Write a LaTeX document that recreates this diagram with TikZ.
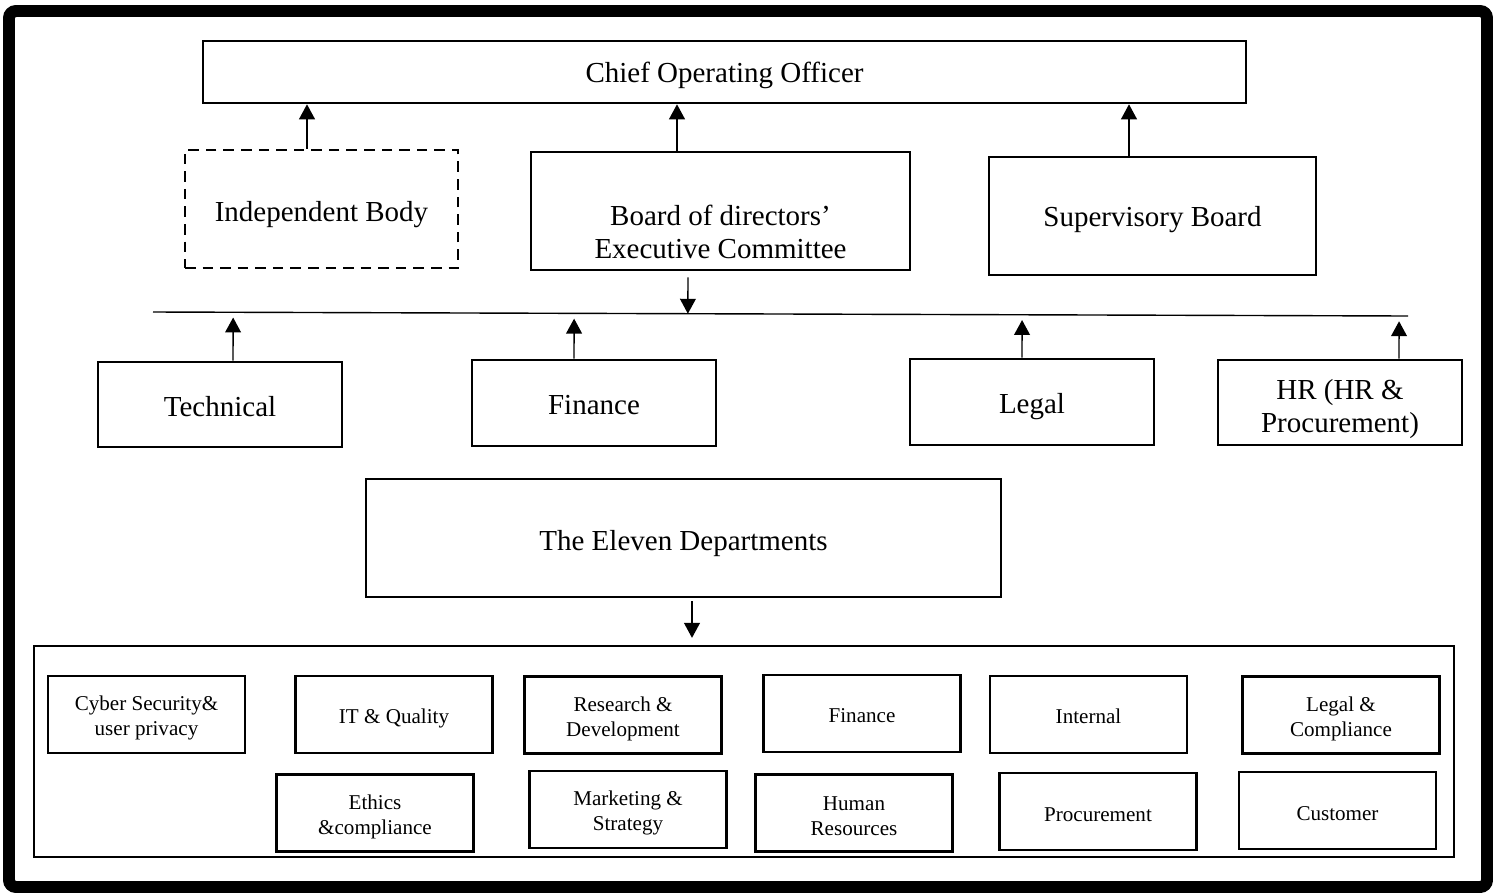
\documentclass[tikz,border=0pt]{standalone}
\usepackage{fontspec}
\setmainfont{Liberation Serif}
\usetikzlibrary{arrows.meta,calc}

\begin{document}
\begin{tikzpicture}[x=0.02cm,y=-0.02cm,>={Triangle[length=8.5pt,width=9pt]},every node/.style={font=\fontsize{16.5}{18.8}\selectfont},unit/.style={draw,line width=1.5pt,inner sep=0pt},tx/.style={align=center,inner sep=0pt},dept/.style={draw,line width=1.2pt,inner sep=0pt,minimum width=3.94cm,minimum height=1.54cm},dtx/.style={align=center,inner sep=0pt,yshift=-2pt,font=\fontsize{12}{14.2}\selectfont},link/.style={->,line width=0.8pt}]
\useasboundingbox (0,0) rectangle (1495,893);
\draw[line width=6.8pt,rounded corners=4pt] (9,11) rectangle (1487,887);
% top of the chart
\node[unit,minimum width=20.86cm,minimum height=1.24cm,label={[tx,yshift=-1.7pt]center:Chief Operating Officer}] (coo) at (724.5,72) {};
\node[unit,dash pattern=on 6pt off 4pt,minimum width=5.46cm,minimum height=2.36cm,label={[tx,yshift=-3.4pt]center:Independent Body}] (indep) at (321.5,209) {};
\node[unit,minimum width=7.58cm,minimum height=2.36cm,label={[tx,yshift=-12pt]center:Board of directors’\\Executive Committee}] (board) at (720.5,211) {};
\node[unit,minimum width=6.54cm,minimum height=2.36cm,label={[tx,yshift=-2.3pt]center:Supervisory Board}] (superv) at (1152.5,216) {};
\foreach \n/\dx in {indep/-14.5,board/-43.5,superv/-23.5}
  \draw[link] ($(\n.north)+(\dx,0)$) coordinate (tmp) -- (tmp |- coo.south);
% bus line
\draw[line width=0.8pt] (153,312) coordinate (busL) -- (1408,316) coordinate (busR);
\draw[link] ($(board.south)+(-32.5,6)$) coordinate (tmp) -- ($(busL)!(tmp)!(busR)$);
% the four units
\node[unit,minimum width=4.88cm,minimum height=1.7cm,label={[tx,yshift=-1.2pt]center:Technical}] (tech) at (220,404.5) {};
\node[unit,minimum width=4.88cm,minimum height=1.72cm,label={[tx,yshift=-1.2pt]center:Finance}] (fin) at (594,403) {};
\node[unit,minimum width=4.88cm,minimum height=1.72cm,label={[tx,yshift=-2.8pt]center:Legal}] (legal) at (1032,402) {};
\node[unit,minimum width=4.88cm,minimum height=1.7cm,label={[tx,yshift=-3.8pt]center:HR (HR \&\\Procurement)}] (hr) at (1340,402.5) {};
\foreach \n/\dx in {tech/13,fin/-20,legal/-10,hr/59}
  \draw[link,shorten >=3pt] ($(\n.north)+(\dx,0)$) coordinate (tmp) -- ($(busL)!(tmp)!(busR)$);
% departments
\node[unit,minimum width=12.7cm,minimum height=2.36cm,label={[tx,yshift=-3.4pt]center:The Eleven Departments}] (eleven) at (683.5,538) {};
\node[draw,line width=1.3pt,minimum width=28.4cm,minimum height=4.22cm] (depts) at (744,751.5) {};
\draw[link,shorten >=4pt] ($(eleven.south)+(8.5,3)$) coordinate (tmp) -- (tmp |- depts.north);
\node[dept,label={[dtx]center:Cyber Security\&\\user privacy}] (cyber) at (146.5,714.5) {};
\node[dept,label={[dtx]center:IT \& Quality}] (itq) at (394,714.5) {};
\node[dept,label={[dtx]center:Research \&\\Development}] (rnd) at (623,715) {};
\node[dept,label={[dtx,yshift=1pt]center:Finance}] (dfin) at (862,713.5) {};
\node[dept,label={[dtx,yshift=1pt]center:Internal}] (internal) at (1088.5,714.5) {};
\node[dept,label={[dtx]center:Legal \&\\Compliance}] (dlegal) at (1341,715) {};
\node[dept,label={[dtx]center:Ethics\\\&compliance}] (ethics) at (375,813) {};
\node[dept,label={[dtx]center:Marketing \&\\Strategy}] (mkt) at (628,809.5) {};
\node[dept,label={[dtx]center:Human\\Resources}] (hres) at (854,813) {};
\node[dept,label={[dtx]center:Procurement}] (proc) at (1098,811.5) {};
\node[dept,label={[dtx]center:Customer}] (cust) at (1337.5,810.5) {};
\end{tikzpicture}
\end{document}
